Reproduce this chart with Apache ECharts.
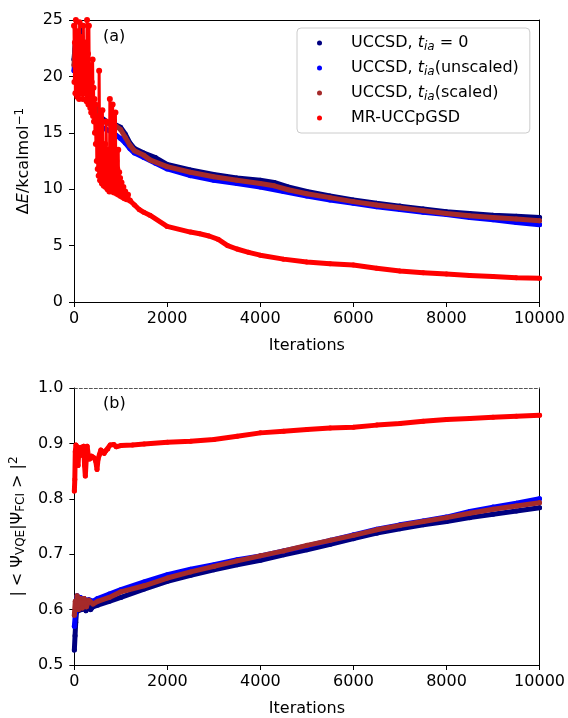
<!DOCTYPE html>
<html lang="en">
<head>
<meta charset="UTF-8">
<title>VQE convergence</title>
<script src="https://cdn.jsdelivr.net/npm/echarts@6/dist/echarts.min.js"></script>
<style>html,body{margin:0;padding:0;background:#fff}#main{width:568px;height:718px}</style>
</head>
<body>
<div id="main"></div>
<script>
// series names (legend order)
var names = ['UCCSD, t_ia = 0', 'UCCSD, t_ia(unscaled)', 'UCCSD, t_ia(scaled)', 'MR-UCCpGSD'];
var colors = ['#000080', '#0000ff', '#a52a2a', '#ff0000'];

// panel (a): energy error in kcal/mol vs iteration
var navyA = [[0,21.5],[30,23],[60,20.5],[100,22],[140,23.5],[165,24.3],[200,19.5],[240,21],[280,19.5],[320,18.8],[360,18.2],[400,17.8],[450,17.2],[500,16.8],[550,16.4],[600,16.3],[700,16.0],[800,15.8],[900,15.7],[1000,15.5],[1100,14.9],[1200,14.1],[1300,13.6],[1500,13.2],[1750,12.8],[2000,12.2],[2500,11.7],[3000,11.3],[3500,11.0],[4000,10.8],[4300,10.6],[4600,10.2],[5000,9.8],[5500,9.4],[6000,9.05],[6500,8.75],[7000,8.5],[7500,8.25],[8000,8.0],[8500,7.85],[9000,7.7],[9500,7.6],[10000,7.5]];
var blueA = [[0,20.5],[30,22.5],[60,20],[100,21.5],[140,22.8],[180,20.5],[220,21],[260,19.8],[300,19],[350,18.3],[400,17.6],[450,17],[500,16.3],[550,15.8],[600,15.5],[700,15.3],[800,15.1],[900,14.8],[1000,14.5],[1100,14.1],[1200,13.6],[1300,13.2],[1500,12.8],[1750,12.3],[2000,11.8],[2500,11.2],[3000,10.8],[3500,10.5],[4000,10.2],[4500,9.8],[5000,9.4],[5500,9.05],[6000,8.75],[6500,8.45],[7000,8.2],[7500,7.95],[8000,7.75],[8500,7.5],[9000,7.3],[9500,7.05],[10000,6.85]];
var brownA = [[0,21],[25,23],[50,20.5],[80,22.5],[120,21],[150,23.5],[190,20],[230,22],[270,19.5],[310,20.5],[350,18.5],[400,18],[450,17.5],[500,17],[550,16.5],[600,16.1],[700,15.9],[800,15.7],[900,15.6],[1000,15.3],[1100,14.6],[1200,13.9],[1300,13.4],[1500,13.0],[1630,12.6],[2000,12.0],[2500,11.5],[3000,11.1],[3500,10.8],[4000,10.5],[4300,10.3],[4600,9.95],[5000,9.6],[5500,9.25],[6000,8.9],[6500,8.6],[7000,8.35],[7500,8.1],[8000,7.85],[8500,7.65],[9000,7.5],[9500,7.35],[10000,7.2]];
// MR-UCCpGSD: scattered early iterations, then the smooth tail
var redNoiseA = [[0,24.5],[10,19.5],[20,23],[30,18.5],[40,25],[50,20],[60,22.5],[70,18.2],[80,24],[90,19.5],[100,21.5],[110,18],[120,24.8],[130,20.5],[140,22.5],[150,18.5],[160,23.5],[170,19.5],[180,21.5],[190,18],[200,24.5],[210,20],[220,22],[230,18.5],[240,23],[250,19],[260,21.5],[270,17.8],[280,25],[290,19.5],[300,22],[310,17.5],[320,24.5],[330,18.5],[340,21],[350,17.2],[360,20.5],[370,16.8],[380,19.5],[390,17],[400,21.5],[410,16.5],[420,19],[430,16],[440,18],[450,15],[460,17.5],[470,14],[480,16.5],[490,12.5],[500,15.5],[510,11.8],[520,14.5],[530,11.2],[540,20.5],[550,13.5],[560,10.8],[570,14],[580,11],[590,13.5],[600,10.5],[610,17],[620,11.5],[630,13.8],[640,10.3],[650,13.2],[660,10.8],[670,14],[680,10.2],[690,16],[700,11.5],[710,13.5],[720,10],[730,12.8],[740,10.5],[750,13.5],[760,9.8],[770,18],[780,11],[790,13],[800,10],[810,12.5],[820,9.8],[830,17.5],[840,11.2],[850,13],[860,9.7],[870,12.2],[880,10.3],[890,16.8],[900,10],[910,12.5],[920,9.6],[930,11.8],[940,10.2],[950,13.5],[960,9.5],[970,11.5],[980,9.8],[990,11],[1000,9.4],[1020,10.6],[1040,9.3],[1060,10.2],[1080,9.2],[1100,9.8],[1130,9.1],[1160,9.5],[1200,9.0]];
var redA = [[1200,9.0],[1300,8.6],[1400,8.2],[1500,7.95],[1630,7.7],[2000,6.7],[2500,6.2],[2700,6.05],[2900,5.85],[3100,5.55],[3300,5.0],[3500,4.7],[3750,4.4],[4000,4.15],[4500,3.8],[5000,3.55],[5500,3.4],[6000,3.28],[6500,3.0],[7000,2.75],[7500,2.6],[8000,2.48],[8500,2.35],[9000,2.25],[9500,2.15],[10000,2.1]];

// panel (b): fidelity |<psi_VQE|psi_FCI>|^2 vs iteration
var navyB = [[0,0.527],[15,0.553],[30,0.577],[45,0.595],[60,0.612],[90,0.598],[120,0.615],[160,0.6],[200,0.612],[250,0.598],[300,0.607],[350,0.6],[400,0.605],[500,0.608],[750,0.615],[1000,0.622],[1500,0.637],[2000,0.651],[2500,0.662],[3000,0.672],[3500,0.681],[4000,0.689],[4500,0.699],[5000,0.708],[5500,0.718],[6000,0.728],[6500,0.738],[7000,0.746],[7500,0.753],[8000,0.759],[8500,0.766],[9000,0.772],[9500,0.778],[10000,0.784]];
var blueB = [[0,0.57],[20,0.59],[40,0.61],[60,0.625],[90,0.605],[130,0.622],[170,0.608],[210,0.62],[260,0.608],[310,0.618],[400,0.615],[500,0.62],[750,0.628],[1000,0.636],[1500,0.65],[2000,0.663],[2500,0.673],[3000,0.681],[3500,0.69],[4000,0.697],[4500,0.706],[5000,0.715],[5500,0.725],[6000,0.735],[6500,0.745],[7000,0.753],[7500,0.76],[8000,0.767],[8500,0.777],[9000,0.785],[9500,0.792],[10000,0.80]];
var brownB = [[0,0.59],[20,0.615],[40,0.6],[60,0.625],[90,0.6],[130,0.62],[170,0.603],[210,0.62],[260,0.605],[310,0.617],[400,0.61],[500,0.615],[750,0.622],[1000,0.632],[1500,0.643],[2000,0.657],[2500,0.668],[3000,0.678],[3500,0.688],[4000,0.697],[4500,0.706],[5000,0.716],[5500,0.725],[6000,0.734],[6500,0.744],[7000,0.752],[7500,0.759],[8000,0.766],[8500,0.774],[9000,0.781],[9500,0.787],[10000,0.793]];
var redB = [[0,0.814],[10,0.835],[20,0.885],[35,0.897],[50,0.87],[65,0.894],[80,0.86],[100,0.892],[120,0.878],[150,0.893],[180,0.887],[200,0.895],[220,0.86],[236,0.841],[255,0.87],[275,0.895],[300,0.878],[330,0.872],[370,0.877],[420,0.874],[460,0.868],[487,0.853],[510,0.872],[540,0.88],[570,0.888],[600,0.886],[640,0.882],[680,0.887],[720,0.89],[770,0.897],[850,0.898],[900,0.894],[1000,0.896],[1250,0.897],[1500,0.899],[2000,0.902],[2500,0.904],[3000,0.907],[3500,0.913],[4000,0.919],[4500,0.922],[5000,0.925],[5500,0.928],[6000,0.929],[6500,0.933],[7000,0.936],[7500,0.94],[8000,0.943],[8500,0.945],[9000,0.947],[9500,0.949],[10000,0.951]];

var F = 'DejaVu Sans';
var FS = 16;
var myChart = echarts.init(document.getElementById('main'), null, {renderer: 'canvas'});

var rich = {
    n: {fontSize: FS, fontFamily: F, color: '#000', lineHeight: 19},
    i: {fontSize: FS, fontFamily: F, color: '#000', fontStyle: 'italic', lineHeight: 19},
    s: {fontSize: 12, fontFamily: F, color: '#000', fontStyle: 'italic', lineHeight: 12, verticalAlign: 'bottom'},
    u: {fontSize: 12, fontFamily: F, color: '#000', lineHeight: 12, verticalAlign: 'bottom'},
    p: {fontSize: 12, fontFamily: F, color: '#000', lineHeight: 12, verticalAlign: 'top'}
};
var legendText = {};
legendText[names[0]] = '{n|UCCSD, }{i|t}{s|ia}{n| = 0}';
legendText[names[1]] = '{n|UCCSD, }{i|t}{s|ia}{n|(unscaled)}';
legendText[names[2]] = '{n|UCCSD, }{i|t}{s|ia}{n|(scaled)}';
legendText[names[3]] = '{n|MR-UCCpGSD}';

function xAxes(g) {
    return [
        {gridIndex: g, type: 'value', min: 0, max: 10000, interval: 2000,
            name: 'Iterations', nameLocation: 'middle', nameGap: 36,
            nameTextStyle: {fontSize: FS, fontFamily: F, color: '#000'},
            axisLine: {onZero: false, lineStyle: {color: '#000', width: 1}},
            axisTick: {length: 5, lineStyle: {color: '#000'}},
            axisLabel: {fontSize: FS, fontFamily: F, color: '#000', margin: 9, formatter: function (v) { return String(v); }},
            splitLine: {show: false}},
        {gridIndex: g, type: 'value', position: 'top', min: 0, max: 10000,
            axisLine: {onZero: false, lineStyle: g === 1 ? {color: '#555', width: 1, type: [3, 2]} : {color: '#000', width: 1}},
            axisTick: {show: false}, axisLabel: {show: false}, splitLine: {show: false}}
    ];
}
function yAxes(g, min, max, step, name, fmt, gap) {
    return [
        {gridIndex: g, type: 'value', min: min, max: max, interval: step,
            name: name, nameLocation: 'middle', nameGap: gap,
            nameTextStyle: {fontSize: FS, fontFamily: F, color: '#000', rich: rich},
            axisLine: {onZero: false, lineStyle: {color: '#000', width: 1}},
            axisTick: {length: 5, lineStyle: {color: '#000'}},
            axisLabel: {fontSize: FS, fontFamily: F, color: '#000', margin: 11, formatter: fmt},
            splitLine: {show: false}},
        {gridIndex: g, type: 'value', position: 'right', min: min, max: max,
            axisLine: {onZero: false, lineStyle: {color: '#000', width: 1}},
            axisTick: {show: false}, axisLabel: {show: false}, splitLine: {show: false}}
    ];
}

function mk(k, data, xi, yi, lw, ss) {
    return {
        name: names[k], type: 'line', data: data, xAxisIndex: xi, yAxisIndex: yi,
        symbol: 'circle', symbolSize: ss || 5, showSymbol: true,
        lineStyle: {width: lw || 5, color: colors[k], cap: 'round', join: 'round'},
        itemStyle: {color: colors[k]},
        emphasis: {disabled: true}, z: 2 + k, silent: true
    };
}

option = {
    animation: false,
    backgroundColor: '#fff',
    grid: [
        {left: 74, top: 20, width: 466, height: 282},
        {left: 74, top: 388, width: 466, height: 280}
    ],
    xAxis: xAxes(0).concat(xAxes(1)),
    yAxis: yAxes(0, 0, 25, 5, '{n|Δ}{i|E}{n|/kcalmol}{p|−1}', function (v) { return v; }, 39)
        .concat(yAxes(1, 0.5, 1.0, 0.1, '{n|| < Ψ}{u|VQE}{n||Ψ}{u|FCI}{n| > |}{p|2}', function (v) { return v.toFixed(1); }, 46)),
    legend: {
        data: names, orient: 'vertical', left: 297, top: 28,
        icon: 'circle', itemWidth: 5, itemHeight: 5, itemGap: 7.5,
        padding: [7, 11, 7, 20],
        borderColor: '#ccc', borderWidth: 1, borderRadius: 4,
        backgroundColor: 'rgba(255,255,255,0.8)',
        selectedMode: false,
        textStyle: {fontSize: FS, fontFamily: F, color: '#000', padding: [0, 0, 0, 24], rich: rich},
        formatter: function (n) { return legendText[n]; }
    },
    graphic: [
        {type: 'text', left: 103, top: 29, style: {text: '(a)', fontSize: FS, fontFamily: F, fill: '#000'}},
        {type: 'text', left: 103, top: 396, style: {text: '(b)', fontSize: FS, fontFamily: F, fill: '#000'}}
    ],
    series: [
        mk(0, navyA, 0, 0), mk(1, blueA, 0, 0), mk(2, brownA, 0, 0),
        mk(3, redNoiseA, 0, 0, 3, 6), mk(3, redA, 0, 0),
        mk(0, navyB, 2, 2), mk(1, blueB, 2, 2), mk(2, brownB, 2, 2), mk(3, redB, 2, 2)
    ]
};
myChart.setOption(option);
</script>
</body>
</html>
